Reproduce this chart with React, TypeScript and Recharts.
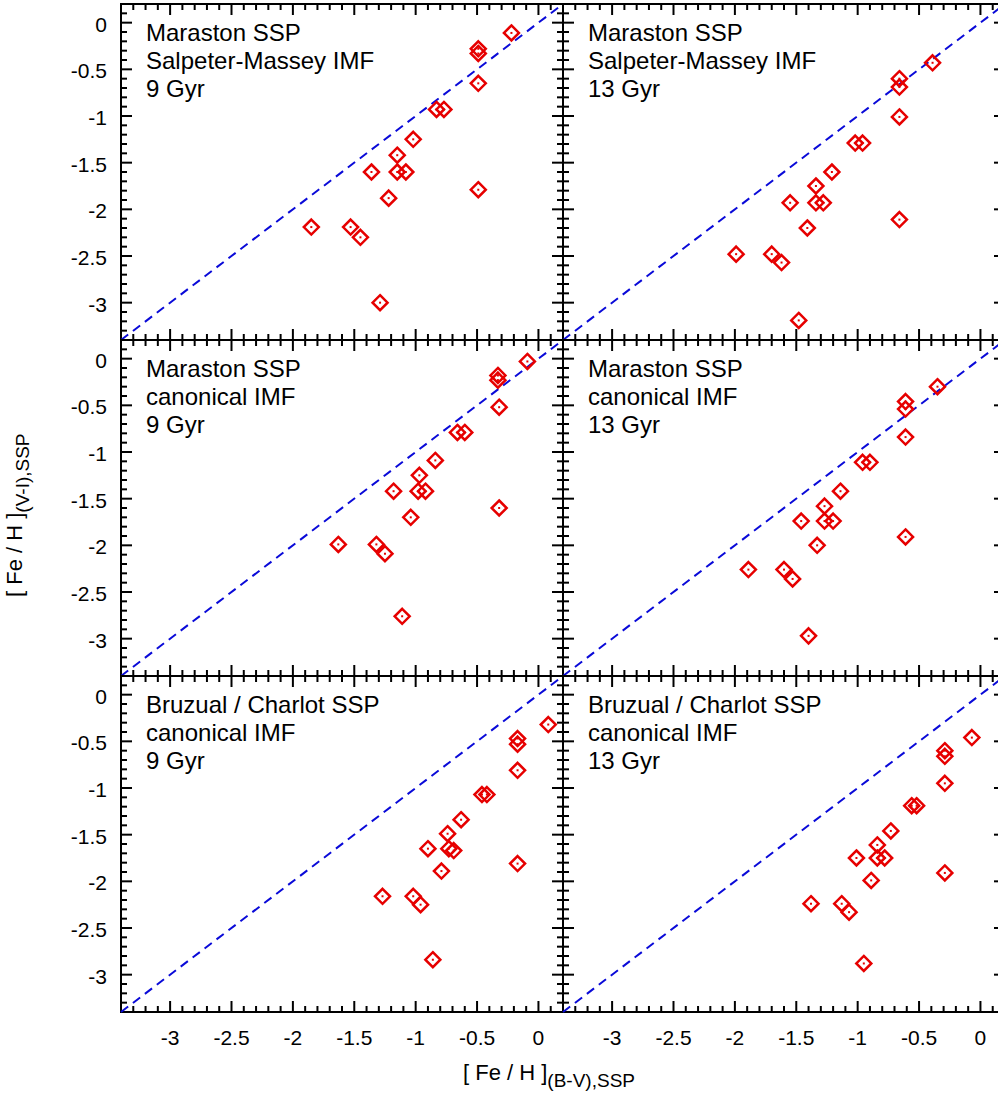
import React from 'react'
import { ScatterChart, Scatter, XAxis, YAxis, ReferenceLine, ReferenceArea } from 'recharts'

// [Fe/H] from (B-V) (x) vs [Fe/H] from (V-I) (y), one pair per panel
const MS_SALP_9_BV = [-0.22, -0.49, -0.49, -0.49, -0.83, -0.77, -1.02, -1.15, -1.36, -1.15, -1.08, -0.49, -1.22, -1.85, -1.53, -1.45, -1.29]
const MS_SALP_9_VI = [-0.11, -0.28, -0.33, -0.65, -0.93, -0.93, -1.25, -1.42, -1.6, -1.6, -1.6, -1.79, -1.88, -2.19, -2.19, -2.3, -3.0]

const MS_SALP_13_BV = [-0.39, -0.66, -0.66, -0.66, -1.02, -0.96, -1.21, -1.34, -1.55, -1.34, -1.28, -0.66, -1.41, -1.99, -1.7, -1.62, -1.48]
const MS_SALP_13_VI = [-0.43, -0.6, -0.69, -1.01, -1.29, -1.29, -1.6, -1.75, -1.93, -1.93, -1.93, -2.11, -2.2, -2.48, -2.48, -2.57, -3.19]

const MS_CAN_9_BV = [-0.09, -0.33, -0.33, -0.32, -0.66, -0.6, -0.84, -0.97, -1.18, -0.98, -0.92, -0.32, -1.04, -1.63, -1.32, -1.25, -1.11]
const MS_CAN_9_VI = [-0.03, -0.18, -0.23, -0.52, -0.79, -0.79, -1.09, -1.25, -1.42, -1.42, -1.42, -1.6, -1.7, -1.99, -1.99, -2.09, -2.76]

const MS_CAN_13_BV = [-0.35, -0.61, -0.61, -0.61, -0.96, -0.9, -1.14, -1.27, -1.46, -1.27, -1.2, -0.61, -1.33, -1.89, -1.6, -1.53, -1.4]
const MS_CAN_13_VI = [-0.3, -0.46, -0.54, -0.84, -1.11, -1.11, -1.42, -1.58, -1.74, -1.74, -1.74, -1.91, -2.0, -2.26, -2.26, -2.36, -2.97]

const BC_CAN_9_BV = [0.08, -0.17, -0.17, -0.17, -0.46, -0.42, -0.63, -0.74, -0.9, -0.73, -0.69, -0.17, -0.79, -1.27, -1.02, -0.96, -0.86]
const BC_CAN_9_VI = [-0.32, -0.47, -0.53, -0.81, -1.07, -1.07, -1.34, -1.49, -1.65, -1.65, -1.67, -1.81, -1.89, -2.16, -2.16, -2.25, -2.84]

const BC_CAN_13_BV = [-0.07, -0.29, -0.29, -0.29, -0.56, -0.52, -0.73, -0.84, -1.01, -0.84, -0.78, -0.29, -0.89, -1.38, -1.13, -1.07, -0.95]
const BC_CAN_13_VI = [-0.46, -0.6, -0.66, -0.95, -1.19, -1.19, -1.46, -1.61, -1.75, -1.75, -1.75, -1.91, -1.99, -2.24, -2.24, -2.33, -2.88]

const TITLE_MS_SALP_9 = ['Maraston SSP', 'Salpeter-Massey IMF', '9 Gyr']
const TITLE_MS_SALP_13 = ['Maraston SSP', 'Salpeter-Massey IMF', '13 Gyr']
const TITLE_MS_CAN_9 = ['Maraston SSP', 'canonical IMF', '9 Gyr']
const TITLE_MS_CAN_13 = ['Maraston SSP', 'canonical IMF', '13 Gyr']
const TITLE_BC_CAN_9 = ['Bruzual / Charlot SSP', 'canonical IMF', '9 Gyr']
const TITLE_BC_CAN_13 = ['Bruzual / Charlot SSP', 'canonical IMF', '13 Gyr']

const DOMAIN: [number, number] = [-3.4, 0.2]
const MAJOR_TICKS = [-3, -2.5, -2, -1.5, -1, -0.5, 0]
const ALL_TICKS = [
  -3.3, -3.2, -3.1, -3, -2.9, -2.8, -2.7, -2.6, -2.5, -2.4, -2.3, -2.2, -2.1, -2, -1.9, -1.8, -1.7,
  -1.6, -1.5, -1.4, -1.3, -1.2, -1.1, -1, -0.9, -0.8, -0.7, -0.6, -0.5, -0.4, -0.3, -0.2, -0.1, 0, 0.1,
]

const PLOT_W = 442
const PLOT_H = 336
const LEFT = 121
const TOP = 4
const RED = '#e60000'
const BLUE = '#0a0ad8'
const FONT = "'Liberation Sans', Arial, Helvetica, sans-serif"

const zip = (xs: number[], ys: number[]) => xs.map((x, i) => ({ x, y: ys[i] }))

const PANELS = [
  { row: 0, col: 0, title: TITLE_MS_SALP_9, data: zip(MS_SALP_9_BV, MS_SALP_9_VI) },
  { row: 0, col: 1, title: TITLE_MS_SALP_13, data: zip(MS_SALP_13_BV, MS_SALP_13_VI) },
  { row: 1, col: 0, title: TITLE_MS_CAN_9, data: zip(MS_CAN_9_BV, MS_CAN_9_VI) },
  { row: 1, col: 1, title: TITLE_MS_CAN_13, data: zip(MS_CAN_13_BV, MS_CAN_13_VI) },
  { row: 2, col: 0, title: TITLE_BC_CAN_9, data: zip(BC_CAN_9_BV, BC_CAN_9_VI) },
  { row: 2, col: 1, title: TITLE_BC_CAN_13, data: zip(BC_CAN_13_BV, BC_CAN_13_VI) },
]

const isMajor = (v: number) => MAJOR_TICKS.some((m) => Math.abs(m - v) < 1e-6)

// ticks point inwards on both sides, labels outside
function XTick({ x, y, payload, showLabel }: any) {
  const major = isMajor(payload.value)
  const len = major ? 11 : 6
  return (
    <g>
      <line x1={x} x2={x} y1={y} y2={y - len} stroke="#000" strokeWidth={2} />
      <line x1={x} x2={x} y1={y - PLOT_H} y2={y - PLOT_H + len} stroke="#000" strokeWidth={2} />
      {showLabel && major && (
        <text x={x} y={y + 33} textAnchor="middle" fontSize={21} fontFamily={FONT} fill="#000">
          {String(payload.value)}
        </text>
      )}
    </g>
  )
}

function YTick({ x, y, payload, showLabel }: any) {
  const major = isMajor(payload.value)
  const len = major ? 11 : 6
  return (
    <g>
      <line x1={x} x2={x + len} y1={y} y2={y} stroke="#000" strokeWidth={2} />
      <line x1={x + PLOT_W} x2={x + PLOT_W - len} y1={y} y2={y} stroke="#000" strokeWidth={2} />
      {showLabel && major && (
        <text x={x - 14} y={y + 9} textAnchor="end" fontSize={21} fontFamily={FONT} fill="#000">
          {String(payload.value)}
        </text>
      )}
    </g>
  )
}

function Diamond({ cx, cy }: any) {
  const r = 7.5
  return (
    <g>
      <path
        d={`M${cx},${cy - r}L${cx + r},${cy}L${cx},${cy + r}L${cx - r},${cy}Z`}
        fill="none"
        stroke={RED}
        strokeWidth={2.5}
      />
      <rect x={cx - 1} y={cy - 1} width={2} height={2} fill={RED} />
    </g>
  )
}

function Panel({ row, col, data }: { row: number; col: number; data: { x: number; y: number }[] }) {
  return (
    <div style={{ position: 'absolute', left: col * PLOT_W, top: row * PLOT_H }}>
      <ScatterChart
        width={LEFT + PLOT_W + 10}
        height={TOP + PLOT_H + 60}
        margin={{ top: TOP, right: 10, bottom: 0, left: 0 }}
      >
        <XAxis
          type="number"
          dataKey="x"
          domain={DOMAIN}
          allowDataOverflow
          ticks={ALL_TICKS}
          interval={0}
          height={60}
          tickSize={0}
          tickMargin={0}
          axisLine={false}
          tickLine={false}
          tick={(p: any) => <XTick {...p} showLabel={row === 2} />}
        />
        <YAxis
          type="number"
          dataKey="y"
          domain={DOMAIN}
          allowDataOverflow
          ticks={ALL_TICKS}
          interval={0}
          width={LEFT}
          tickSize={0}
          tickMargin={0}
          axisLine={false}
          tickLine={false}
          tick={(p: any) => <YTick {...p} showLabel={col === 0} />}
        />
        <ReferenceArea
          x1={DOMAIN[0]}
          x2={DOMAIN[1]}
          y1={DOMAIN[0]}
          y2={DOMAIN[1]}
          fill="none"
          fillOpacity={0}
          stroke="#000"
          strokeWidth={2}
          ifOverflow="visible"
        />
        <ReferenceLine
          segment={[
            { x: DOMAIN[0], y: DOMAIN[0] },
            { x: DOMAIN[1], y: DOMAIN[1] },
          ]}
          stroke={BLUE}
          strokeWidth={2}
          strokeDasharray="9 6"
          ifOverflow="visible"
        />
        <Scatter data={data} shape={<Diamond />} isAnimationActive={false} />
      </ScatterChart>
    </div>
  )
}

export default function App() {
  return (
    <div
      style={{
        position: 'absolute',
        left: 0,
        top: 0,
        width: 998,
        height: 1095,
        overflow: 'hidden',
        background: '#fff',
        fontFamily: FONT,
      }}
    >
      {PANELS.map((p) => (
        <Panel key={`${p.row}-${p.col}`} row={p.row} col={p.col} data={p.data} />
      ))}
      <svg width={998} height={1095} style={{ position: 'absolute', left: 0, top: 0, pointerEvents: 'none' }}>
        {PANELS.map((p) =>
          p.title.map((line, i) => (
            <text
              key={`${p.row}-${p.col}-${i}`}
              x={LEFT + p.col * PLOT_W + 25}
              y={TOP + p.row * PLOT_H + 37 + i * 28}
              fontSize={24}
              fontFamily={FONT}
              fill="#000"
            >
              {line}
            </text>
          ))
        )}
        <text x={463} y={1080} fontSize={22} fontFamily={FONT} fill="#000">
          [ Fe / H ]
          <tspan dy={7} fontSize={19}>
            (B-V),SSP
          </tspan>
        </text>
        <text transform="translate(22,597) rotate(-90)" fontSize={22} fontFamily={FONT} fill="#000">
          [ Fe / H ]
          <tspan dy={7} fontSize={19}>
            (V-I),SSP
          </tspan>
        </text>
      </svg>
    </div>
  )
}
